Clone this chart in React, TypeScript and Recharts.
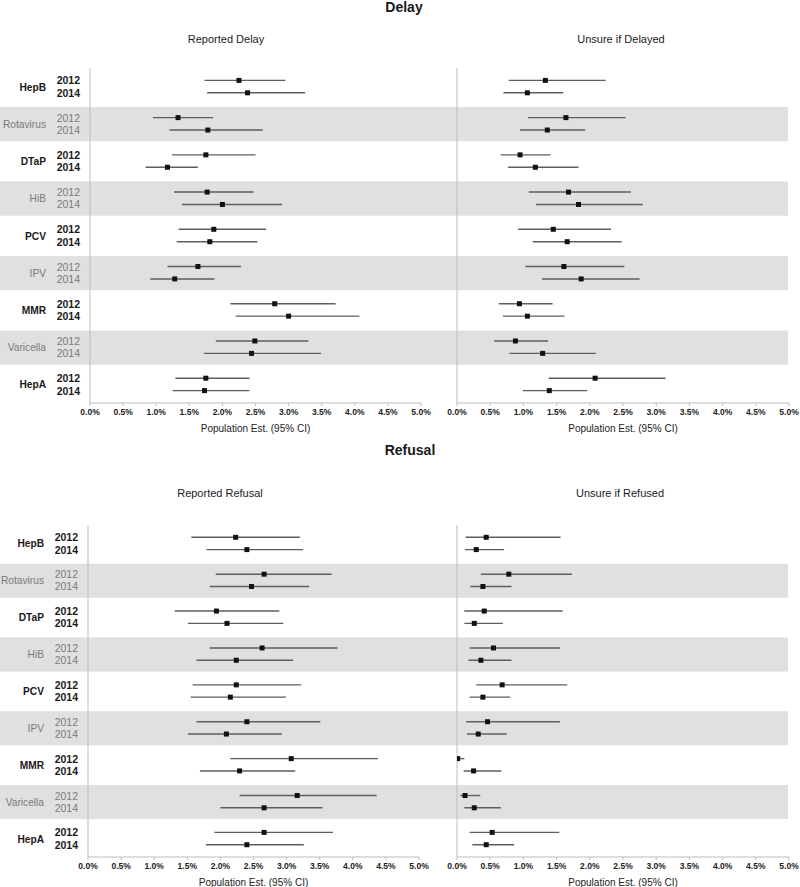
import React from "react"
import { ScatterChart, Scatter, XAxis, YAxis, ErrorBar, ReferenceArea } from "recharts"

// vaccines, top to bottom; every vaccine has a 2012 row and a 2014 row
const vaccines = ["HepB", "Rotavirus", "DTaP", "HiB", "PCV", "IPV", "MMR", "Varicella", "HepA"]
const years = ["2012", "2014"]
const xTicks = [0, 0.5, 1, 1.5, 2, 2.5, 3, 3.5, 4, 4.5, 5]

// values in %, order: HepB 2012, HepB 2014, Rotavirus 2012, ...
const reportedDelayEst = [2.25, 2.38, 1.33, 1.78, 1.75, 1.17, 1.77, 2.0, 1.87, 1.81, 1.63, 1.28, 2.79, 3.0, 2.49, 2.44, 1.75, 1.73]
const reportedDelayLow = [1.73, 1.77, 0.95, 1.2, 1.24, 0.84, 1.27, 1.39, 1.34, 1.31, 1.17, 0.91, 2.12, 2.2, 1.9, 1.72, 1.29, 1.25]
const reportedDelayHigh = [2.95, 3.25, 1.86, 2.61, 2.5, 1.63, 2.47, 2.9, 2.66, 2.53, 2.28, 1.88, 3.71, 4.07, 3.3, 3.49, 2.41, 2.41]

const unsureDelayEst = [1.33, 1.06, 1.64, 1.36, 0.95, 1.18, 1.68, 1.83, 1.45, 1.66, 1.61, 1.87, 0.94, 1.06, 0.88, 1.29, 2.08, 1.39]
const unsureDelayLow = [0.78, 0.7, 1.07, 0.95, 0.66, 0.77, 1.08, 1.19, 0.92, 1.14, 1.03, 1.28, 0.63, 0.69, 0.56, 0.79, 1.38, 0.99]
const unsureDelayHigh = [2.24, 1.6, 2.54, 1.93, 1.41, 1.83, 2.62, 2.8, 2.32, 2.48, 2.52, 2.75, 1.44, 1.62, 1.37, 2.09, 3.14, 1.96]

const reportedRefusalEst = [2.23, 2.4, 2.66, 2.47, 1.94, 2.1, 2.63, 2.24, 2.24, 2.15, 2.4, 2.09, 3.07, 2.29, 3.16, 2.66, 2.66, 2.4]
const reportedRefusalLow = [1.56, 1.79, 1.93, 1.84, 1.31, 1.51, 1.84, 1.64, 1.58, 1.55, 1.64, 1.51, 2.15, 1.69, 2.29, 2.0, 1.91, 1.78]
const reportedRefusalHigh = [3.2, 3.25, 3.68, 3.34, 2.89, 2.95, 3.77, 3.1, 3.22, 2.99, 3.51, 2.93, 4.38, 3.13, 4.36, 3.54, 3.7, 3.26]

const unsureRefusalEst = [0.44, 0.29, 0.78, 0.39, 0.41, 0.26, 0.55, 0.36, 0.68, 0.39, 0.46, 0.32, 0.01, 0.25, 0.12, 0.26, 0.53, 0.44]
const unsureRefusalLow = [0.13, 0.12, 0.36, 0.2, 0.11, 0.11, 0.19, 0.17, 0.29, 0.19, 0.14, 0.15, 0.0, 0.1, 0.05, 0.11, 0.19, 0.23]
const unsureRefusalHigh = [1.56, 0.71, 1.73, 0.82, 1.59, 0.69, 1.55, 0.82, 1.66, 0.8, 1.55, 0.75, 0.11, 0.67, 0.35, 0.66, 1.54, 0.86]

const FONT = "'Liberation Sans', Arial, sans-serif"
const BAND = "#e0e0e0"
const AXIS = "#bdbdbd"

type Row = { pos: number; group: number; year: string; est: number; err: [number, number] }

function buildRows(est: number[], low: number[], high: number[]): Row[] {
  return est.map((e, i) => {
    const group = Math.floor(i / 2)
    const y = i % 2
    return {
      pos: group + (y + 1) / 3,
      group,
      year: years[y],
      est: e,
      err: [e - low[i], high[i] - e],
    }
  })
}

const rowTicks = vaccines.flatMap((_, g) => years.map((__, y) => g + (y + 1) / 3))
const nameTicks = vaccines.map((_, g) => g + 0.5)
// one invisible point per vaccine so the name axis and the band chart have data
const groupCenters = vaccines.map((v, g) => ({ name: v, est: 0, mid: g + 0.5 }))
const isShaded = (g: number) => g % 2 === 1

function YearTick(props: any) {
  const { x, y, index } = props
  const g = Math.floor(index / 2)
  const shaded = isShaded(g)
  return (
    <text x={x} y={y} dy={4} textAnchor="end" fontFamily={FONT} fontSize={10.5}
      fontWeight={shaded ? 400 : 700} fill={shaded ? "#7a7a7a" : "#1a1a1a"}>
      {years[index % 2]}
    </text>
  )
}

function NameTick(props: any) {
  const { x, y, index } = props
  const shaded = isShaded(index)
  return (
    <text x={x} y={y} dy={4} textAnchor="end" fontFamily={FONT} fontSize={10.2}
      fontWeight={shaded ? 400 : 700} fill={shaded ? "#7a7a7a" : "#1a1a1a"}>
      {vaccines[index]}
    </text>
  )
}

function PointShape(props: any) {
  const { cx, cy } = props
  return <rect x={cx - 2.5} y={cy - 2.5} width={5} height={5} fill="#111" />
}

const NoShape = () => <g />

function Panel({ rows, width, height, withLabels, rightMargin, nameWidth }: {
  rows: Row[]; width: number; height: number; withLabels: boolean; rightMargin: number; nameWidth: number
}) {
  return (
    <ScatterChart width={width} height={height} margin={{ top: 8, right: rightMargin, bottom: 0, left: 0 }}>
      <XAxis
        type="number"
        dataKey="est"
        domain={[0, 5]}
        ticks={xTicks}
        allowDataOverflow
        height={40}
        stroke={AXIS}
        tickSize={3}
        tickMargin={3}
        tickFormatter={(v: number) => `${v.toFixed(1)}%`}
        tick={{ fontSize: 8.5, fontWeight: 700, fill: "#222", fontFamily: FONT }}
        label={{ value: "Population Est. (95% CI)", position: "insideBottom", offset: 11, fontSize: 10, fill: "#222", fontFamily: FONT }}
      />
      {withLabels && (
        <YAxis
          yAxisId="b"
          type="number"
          dataKey="mid"
          domain={[0, 9]}
          reversed
          ticks={nameTicks}
          interval={0}
          width={nameWidth}
          axisLine={false}
          tickLine={false}
          tickSize={6}
          tickMargin={4}
          tick={<NameTick />}
        />
      )}
      <YAxis
        yAxisId="a"
        type="number"
        dataKey="pos"
        domain={[0, 9]}
        reversed
        ticks={rowTicks}
        interval={0}
        width={withLabels ? 34 : 17}
        stroke={AXIS}
        tickLine={false}
        tickSize={6}
        tickMargin={4}
        tick={withLabels ? <YearTick /> : false}
      />
      {withLabels && (
        <Scatter yAxisId="b" data={groupCenters} dataKey="mid" shape={<NoShape />} isAnimationActive={false} />
      )}
      <Scatter yAxisId="a" data={rows} shape={<PointShape />} isAnimationActive={false}>
        <ErrorBar dataKey="err" direction="x" width={0} stroke="#5e5e5e" strokeWidth={1.4} />
      </Scatter>
    </ScatterChart>
  )
}

function Bands({ height }: { height: number }) {
  return (
    <ScatterChart width={788} height={height} margin={{ top: 0, right: 0, bottom: 0, left: 0 }}>
      <XAxis type="number" dataKey="est" domain={[0, 1]} hide />
      <YAxis type="number" dataKey="mid" domain={[0, 9]} reversed hide />
      {vaccines.map((v, g) =>
        isShaded(g) ? (
          <ReferenceArea key={v} x1={0} x2={1} y1={g + 0.05} y2={g + 0.97} fill={BAND} fillOpacity={1} stroke="none" ifOverflow="visible" />
        ) : null,
      )}
      <Scatter data={groupCenters} shape={<NoShape />} isAnimationActive={false} />
    </ScatterChart>
  )
}

const abs = (left: number, top: number): React.CSSProperties => ({ position: "absolute", left, top })

function Title({ text, top, center, size, bold }: { text: string; top: number; center: number; size: number; bold?: boolean }) {
  return (
    <div style={{
      position: "absolute", top, left: center - 150, width: 300, textAlign: "center",
      fontFamily: FONT, fontSize: size, lineHeight: `${size}px`,
      fontWeight: bold ? 700 : 400, color: "#1a1a1a",
    }}>{text}</div>
  )
}

export default function App() {
  const rd = buildRows(reportedDelayEst, reportedDelayLow, reportedDelayHigh)
  const ud = buildRows(unsureDelayEst, unsureDelayLow, unsureDelayHigh)
  const rr = buildRows(reportedRefusalEst, reportedRefusalLow, reportedRefusalHigh)
  const ur = buildRows(unsureRefusalEst, unsureRefusalLow, unsureRefusalHigh)

  return (
    <div style={{ position: "absolute", left: 0, top: 0, width: 800, height: 887, background: "#fff", overflow: "hidden" }}>
      {/* Delay */}
      <Title text="Delay" top={0} center={404} size={14} bold />
      <Title text="Reported Delay" top={34} center={226} size={11} />
      <Title text="Unsure if Delayed" top={34} center={621} size={11} />
      <div style={abs(0, 68)}><Bands height={335} /></div>
      <div style={abs(0, 60)}>
        <Panel rows={rd} width={440} height={383} withLabels rightMargin={19} nameWidth={56} />
      </div>
      <div style={abs(440, 60)}>
        <Panel rows={ud} width={360} height={383} withLabels={false} rightMargin={11} nameWidth={0} />
      </div>

      {/* Refusal */}
      <Title text="Refusal" top={443} center={410} size={14} bold />
      <Title text="Reported Refusal" top={488} center={220} size={11} />
      <Title text="Unsure if Refused" top={488} center={620} size={11} />
      <div style={abs(0, 525)}><Bands height={332} /></div>
      <div style={abs(0, 517)}>
        <Panel rows={rr} width={440} height={380} withLabels rightMargin={21} nameWidth={54} />
      </div>
      <div style={abs(440, 517)}>
        <Panel rows={ur} width={360} height={380} withLabels={false} rightMargin={11} nameWidth={0} />
      </div>
    </div>
  )
}
